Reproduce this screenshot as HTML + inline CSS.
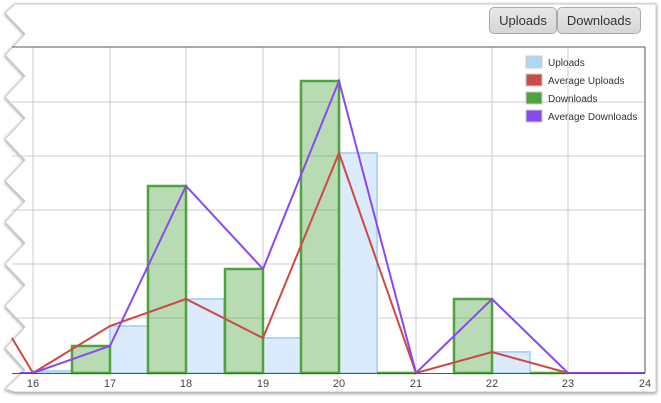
<!DOCTYPE html>
<html><head><style>
body{margin:0;width:661px;height:403px;background:#fff;overflow:hidden;font-family:"Liberation Sans",sans-serif}
.btn{position:absolute;top:7px;height:25px;border:1px solid #aaa;border-radius:5px;background:linear-gradient(#e8e8e8,#d6d6d6);font-size:13px;color:#333;line-height:25px;text-align:center}
</style></head><body>
<svg width="661" height="403" style="position:absolute;left:0;top:0">
<defs><filter id="s" x="-5%" y="-5%" width="110%" height="110%"><feDropShadow dx="0" dy="1" stdDeviation="1.5" flood-color="#000" flood-opacity="0.45"/></filter></defs>
<polygon filter="url(#s)" fill="#fff" stroke="#c8c8c8" stroke-width="1" points="15,4 656,4 656,392 15,392 5,389 25,370 5,348 25,327 5,306 25,285 5,264 25,243 5,222 25,201 5,181 25,160 5,139 25,118 5,97 25,76 5,55 25,34 5,13"/>
<g stroke="#ccc" stroke-width="1">
<line x1="33" y1="47" x2="33" y2="373"/><line x1="110" y1="47" x2="110" y2="373"/><line x1="186" y1="47" x2="186" y2="373"/><line x1="263" y1="47" x2="263" y2="373"/><line x1="339" y1="47" x2="339" y2="373"/><line x1="416" y1="47" x2="416" y2="373"/><line x1="492" y1="47" x2="492" y2="373"/><line x1="568" y1="47" x2="568" y2="373"/>
<line x1="12" y1="102" x2="645" y2="102"/><line x1="12" y1="156" x2="645" y2="156"/><line x1="12" y1="210" x2="645" y2="210"/><line x1="12" y1="264" x2="645" y2="264"/><line x1="12" y1="318" x2="645" y2="318"/>
</g>
<g fill="#dcebfb" stroke="#aed6f5" stroke-width="2">
<rect x="33" y="371" width="38" height="2"/>
<rect x="110" y="326" width="38" height="47"/>
<rect x="186" y="299" width="38" height="74"/>
<rect x="263" y="338" width="38" height="35"/>
<rect x="339" y="153" width="38" height="220"/>
<rect x="492" y="352" width="38" height="21"/>
</g>
<g fill="rgba(77,165,64,0.4)" stroke="#4ea33f" stroke-width="2.5">
<rect x="72" y="346" width="38" height="27"/>
<rect x="148" y="186" width="38" height="187"/>
<rect x="225" y="269" width="38" height="104"/>
<rect x="301" y="81" width="38" height="292"/>
<rect x="454" y="299" width="38" height="74"/>
<line x1="377" y1="373" x2="416" y2="373"/><line x1="530" y1="373" x2="568" y2="373"/>
</g>
<polyline fill="none" stroke="#cc4a45" stroke-width="2" points="12,338 33,373 110,326 186,299 263,338 339,153 416,373 492,352 568,373 645,373"/>
<polyline fill="none" stroke="#8c48ef" stroke-width="2" points="20,373 33,373 110,346 186,186 263,269 339,81 416,373 492,299 568,373 645,373"/>
<line x1="12" y1="47" x2="645" y2="47" stroke="#555" stroke-width="1"/>
<line x1="645" y1="47" x2="645" y2="373" stroke="#555" stroke-width="1"/>
<line x1="12" y1="373.5" x2="645" y2="373.5" stroke="#555" stroke-width="1"/>
<g font-size="11" fill="#444" text-anchor="middle" font-family="Liberation Sans,sans-serif">
<text x="33" y="387">16</text><text x="110" y="387">17</text><text x="186" y="387">18</text><text x="263" y="387">19</text><text x="339" y="387">20</text><text x="416" y="387">21</text><text x="492" y="387">22</text><text x="568" y="387">23</text><text x="645" y="387">24</text>
</g>
<g font-size="10" fill="#333" font-family="Liberation Sans,sans-serif">
<rect x="526" y="56" width="16" height="12" fill="#aed6f5" stroke="#ccc"/><text x="548" y="66">Uploads</text>
<rect x="526" y="74" width="16" height="12" fill="#cc4a45" stroke="#ccc"/><text x="548" y="84">Average Uploads</text>
<rect x="526" y="92" width="16" height="12" fill="#4ea33f" stroke="#ccc"/><text x="548" y="102">Downloads</text>
<rect x="526" y="110" width="16" height="12" fill="#8c48ef" stroke="#ccc"/><text x="548" y="120">Average Downloads</text>
</g>
</svg>
<div class="btn" style="left:489px;width:66px">Uploads</div>
<div class="btn" style="left:557px;width:82px">Downloads</div>
</body></html>
